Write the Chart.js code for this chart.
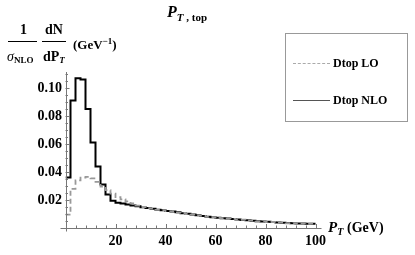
<!DOCTYPE html>
<html>
<head>
<meta charset="utf-8">
<script src="https://cdn.jsdelivr.net/npm/chart.js@4.4.0/dist/chart.umd.min.js"></script>
<style>
  html, body { margin: 0; padding: 0; background: #fff; }
  #wrap { position: relative; width: 415px; height: 255px; font-family: 'Liberation Serif', 'DejaVu Serif', serif; font-weight: bold; color: #000; }
  canvas { position: absolute; left: 0; top: 0; }
  .txt { position: absolute; white-space: nowrap; line-height: 1; }
  .bar { position: absolute; height: 1px; background: #000; }
  #legend { position: absolute; left: 285px; top: 33px; width: 123px; height: 89px; border: 1px solid #999; box-sizing: border-box; }
  .sample { position: absolute; left: 7px; width: 37px; height: 0; }
</style>
</head>
<body>
<div id="wrap">
  <canvas id="ptChart" width="415" height="255"></canvas>

  <div class="txt" style="left:167px; top:4px; font-size:16px;"><i>P</i><span style="font-size:11px; position:relative; top:4px;"><i>T</i> , top</span></div>

  <div class="txt" style="left:20px; top:23px; font-size:14px;">1</div>
  <div class="bar" style="left:8px; top:41px; width:29px;"></div>
  <div class="txt" style="left:7px; top:50px; font-size:14px;"><span style="font-weight:normal; font-style:italic;">&sigma;</span><span style="font-size:9px; position:relative; top:2px;">NLO</span></div>
  <div class="txt" style="left:45px; top:23px; font-size:14px;">dN</div>
  <div class="bar" style="left:42px; top:41px; width:24px;"></div>
  <div class="txt" style="left:43px; top:50px; font-size:14px;">dP<span style="font-size:9px; position:relative; top:2px;"><i>T</i></span></div>
  <div class="txt" style="left:73px; top:37px; font-size:13px;">(GeV<sup style="font-size:9px;">&minus;1</sup>)</div>

  <div class="txt" style="left:328px; top:220px; font-size:15px;"><i>P</i><span style="font-size:10px; position:relative; top:3px;"><i>T</i></span>&nbsp;<span style="font-size:14px;">(GeV)</span></div>

  <div id="legend">
    <div class="sample" style="top:29px; border-top:1px dashed #aaa;"></div>
    <div class="txt" style="left:47px; top:23px; font-size:12px;">Dtop LO</div>
    <div class="sample" style="top:66px; border-top:1px solid #555;"></div>
    <div class="txt" style="left:47px; top:60px; font-size:12px;">Dtop NLO</div>
  </div>
</div>

<script>
// bin low edges in GeV (2 GeV bins), last entry closes the histogram
const ptEdges = [0, 2, 4, 6, 8, 10, 12, 14, 16, 18, 20, 22, 24, 26, 28, 30, 32, 34, 36, 38,
  40, 42, 44, 46, 48, 50, 52, 54, 56, 58, 60, 62, 64, 66, 68, 70, 72, 74, 76, 78,
  80, 82, 84, 86, 88, 90, 92, 94, 96, 98, 100];

const nloValues = [0.036, 0.091, 0.107, 0.106, 0.085, 0.061, 0.044, 0.031, 0.024, 0.0195,
  0.018, 0.0175, 0.0168, 0.016, 0.0155, 0.0148, 0.0142, 0.0137, 0.0131, 0.0127,
  0.0122, 0.0117, 0.0112, 0.0106, 0.0102, 0.0096, 0.0091, 0.0086, 0.0081, 0.0077,
  0.0073, 0.007, 0.0067, 0.0064, 0.006, 0.0058, 0.0055, 0.0052, 0.0049, 0.0047,
  0.0044, 0.0042, 0.004, 0.0038, 0.0035, 0.0034, 0.0033, 0.0032, 0.0031, 0.003];

const loValues = [0.0095, 0.028, 0.034, 0.036, 0.0365, 0.0355, 0.033, 0.0295, 0.027, 0.0245,
  0.022, 0.0205, 0.019, 0.0175, 0.016, 0.015, 0.0141, 0.0138, 0.013, 0.0128,
  0.012, 0.0118, 0.011, 0.0107, 0.01, 0.0097, 0.009, 0.0087, 0.008, 0.0078,
  0.0072, 0.0071, 0.0066, 0.0065, 0.0059, 0.0059, 0.0054, 0.0053, 0.0048, 0.0048,
  0.0043, 0.0043, 0.0039, 0.0039, 0.0034, 0.0035, 0.0032, 0.0033, 0.003, 0.0031];

const xTickLabels = [20, 40, 60, 80, 100];
const yTickLabels = [0.02, 0.04, 0.06, 0.08, 0.10];

function toSteps(values) {
    const pts = values.map((v, i) => ({ x: ptEdges[i], y: v }));
    pts.push({ x: ptEdges[ptEdges.length - 1], y: values[values.length - 1] });
    return pts;
}

// Mathematica-style axes: lines through origin, inward ticks
const axesPlugin = {
    id: 'axesPlugin',
    afterDraw(chart) {
        const ctx = chart.ctx;
        const xs = chart.scales.x, ys = chart.scales.y;
        const x0 = xs.getPixelForValue(0), y0 = ys.getPixelForValue(0);
        ctx.save();
        ctx.strokeStyle = '#777';
        ctx.lineWidth = 1;
        ctx.beginPath();
        ctx.moveTo(xs.getPixelForValue(-2), Math.round(y0) + 0.5);
        ctx.lineTo(xs.getPixelForValue(102.4), Math.round(y0) + 0.5);
        ctx.moveTo(Math.round(x0) + 0.5, ys.getPixelForValue(-0.0025));
        ctx.lineTo(Math.round(x0) + 0.5, ys.getPixelForValue(0.1114));
        for (let v = 4; v <= 100; v += 4) {
            const px = Math.round(xs.getPixelForValue(v)) + 0.5;
            const len = v % 20 === 0 ? 4 : 2.5;
            ctx.moveTo(px, y0);
            ctx.lineTo(px, y0 - len);
        }
        for (let k = 1; k <= 22; k++) {
            const v = k * 0.005;
            const py = Math.round(ys.getPixelForValue(v)) + 0.5;
            const len = k % 4 === 0 ? 4 : 2.5;
            ctx.moveTo(x0, py);
            ctx.lineTo(x0 + len, py);
        }
        ctx.stroke();
        ctx.restore();
    }
};

const tickFont = { family: 'Liberation Serif', size: 14, weight: 'bold' };

new Chart(document.getElementById('ptChart'), {
    type: 'line',
    data: {
        datasets: [{
            label: 'Dtop LO',
            data: toSteps(loValues),
            stepped: true,
            borderColor: '#999',
            borderWidth: 1.8,
            borderDash: [5, 3],
            pointRadius: 0,
            fill: false
        }, {
            label: 'Dtop NLO',
            data: toSteps(nloValues),
            stepped: true,
            borderColor: '#000',
            borderWidth: 2,
            pointRadius: 0,
            fill: false
        }]
    },
    options: {
        responsive: false,
        animation: false,
        layout: { padding: { left: 0, right: 93.5, top: 72, bottom: 0 } },
        plugins: { legend: { display: false }, tooltip: { enabled: false } },
        scales: {
            x: {
                type: 'linear',
                min: 0,
                max: 102.4,
                grid: { display: false, drawTicks: false },
                border: { display: false },
                afterBuildTicks: s => { s.ticks = xTickLabels.map(v => ({ value: v })); },
                afterFit: s => { s.height = 27; },
                ticks: { color: '#000', font: tickFont, padding: 5, maxRotation: 0, autoSkip: false }
            },
            y: {
                min: 0,
                max: 0.1114,
                grid: { display: false, drawTicks: false },
                border: { display: false },
                afterBuildTicks: s => { s.ticks = yTickLabels.map(v => ({ value: v })); },
                afterFit: s => { s.width = 65.5; },
                ticks: { color: '#000', font: tickFont, padding: 3.5, autoSkip: false, callback: v => v.toFixed(2) }
            }
        }
    },
    plugins: [axesPlugin]
});
</script>
</body>
</html>
